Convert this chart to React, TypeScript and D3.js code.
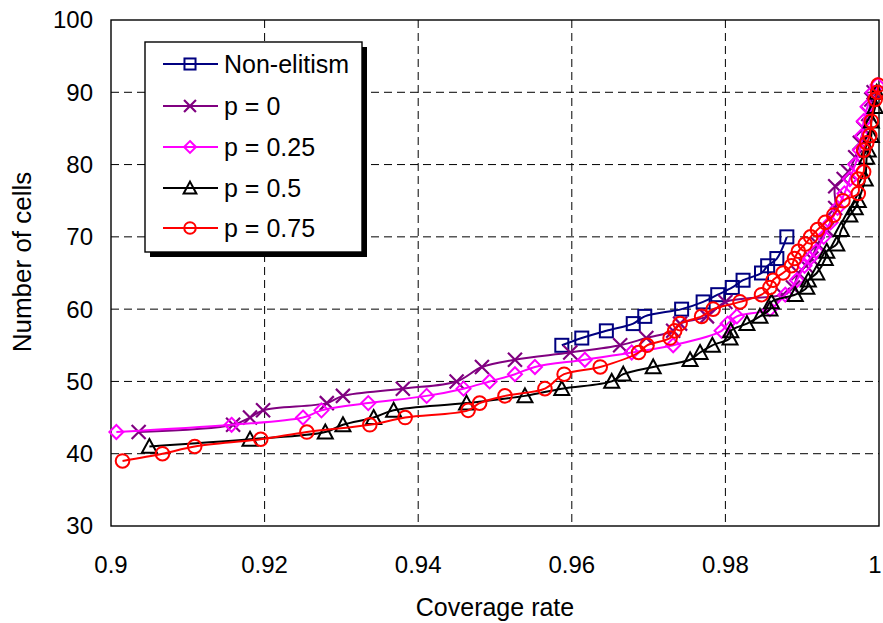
import React from "react";
import * as d3 from "d3";

// ---- data ----
const xTickValues = [0.9, 0.92, 0.94, 0.96, 0.98, 1];
const xTickLabels = ["0.9", "0.92", "0.94", "0.96", "0.98", "1"];
const yTickValues = [30, 40, 50, 60, 70, 80, 90, 100];
const seriesNames = ["Non-elitism", "p = 0", "p = 0.25", "p = 0.5", "p = 0.75"];

const nonElitismX = [0.9587, 0.9613, 0.9645, 0.968, 0.9695, 0.9743, 0.9771, 0.979, 0.9809, 0.9823, 0.9847, 0.9855, 0.9867, 0.988];
const nonElitismY = [55, 56, 57, 58, 59, 60, 61, 62, 63, 64, 65, 66, 67, 70];

const p0X = [0.9036, 0.9159, 0.9181, 0.9198, 0.9281, 0.9302, 0.938, 0.945, 0.9483, 0.9526, 0.9598, 0.9663, 0.9697, 0.9732, 0.9741, 0.9776, 0.98, 0.9875, 0.9888, 0.9895, 0.9905, 0.9912, 0.992, 0.9932, 0.9943, 0.9943, 0.9954, 0.996, 0.9969, 0.9975, 0.998, 0.9986, 0.999, 0.9993];
const p0Y = [43, 44, 45, 46, 47, 48, 49, 50, 52, 53, 54, 55, 56, 57, 58, 59, 61, 62, 63, 65, 66, 67, 69, 71, 74, 77, 78, 79, 81, 83, 85, 87, 89, 90];

const p025X = [0.9007, 0.9157, 0.925, 0.9274, 0.9335, 0.9411, 0.9459, 0.9493, 0.9526, 0.9552, 0.9617, 0.9678, 0.9732, 0.9795, 0.9803, 0.9815, 0.9858, 0.9878, 0.9893, 0.9903, 0.991, 0.9918, 0.9928, 0.9937, 0.9946, 0.9955, 0.9962, 0.9969, 0.9975, 0.9978, 0.998, 0.9985, 0.9992, 0.9998];
const p025Y = [43, 44, 45, 46, 47, 48, 49, 50, 51, 52, 53, 54, 55, 57, 58, 59, 60, 62, 64, 66, 67, 68, 70, 72, 74, 76, 78, 80, 82, 84, 86, 88, 90, 91];

const p05X = [0.905, 0.9181, 0.9279, 0.9302, 0.9342, 0.9368, 0.9463, 0.9539, 0.9587, 0.9652, 0.9667, 0.9706, 0.9754, 0.9767, 0.9783, 0.9806, 0.9807, 0.9828, 0.9845, 0.9858, 0.986, 0.9891, 0.9906, 0.9908, 0.9919, 0.993, 0.9932, 0.9945, 0.9951, 0.9962, 0.9969, 0.9973, 0.9982, 0.9984, 0.9986, 0.999, 0.999, 0.9995, 0.9997];
const p05Y = [41, 42, 43, 44, 45, 46, 47, 48, 49, 50, 51, 52, 53, 54, 55, 56, 57, 58, 59, 60, 61, 62, 63, 64, 65, 67, 68, 69, 71, 73, 74, 75, 78, 81, 82, 84, 86, 88, 90];

const p075X = [0.9015, 0.9067, 0.9109, 0.9195, 0.9255, 0.9337, 0.9383, 0.9465, 0.948, 0.9513, 0.9565, 0.959, 0.9637, 0.9687, 0.9698, 0.9728, 0.9734, 0.9741, 0.9769, 0.9784, 0.9819, 0.9847, 0.9858, 0.9862, 0.9875, 0.9886, 0.989, 0.9895, 0.9904, 0.9911, 0.992, 0.993, 0.9941, 0.9953, 0.9973, 0.9973, 0.998, 0.998, 0.9984, 0.9988, 0.999, 0.9995, 0.9998, 0.9999];
const p075Y = [39, 40, 41, 42, 43, 44, 45, 46, 47, 48, 49, 51, 52, 54, 55, 56, 57, 58, 59, 60, 61, 62, 63, 64, 65, 66, 67, 68, 69, 70, 71, 72, 73, 75, 76, 78, 79, 82, 83, 84, 86, 89, 90, 91];

const seriesX = [nonElitismX, p0X, p025X, p05X, p075X];
const seriesY = [nonElitismY, p0Y, p025Y, p05Y, p075Y];
const seriesColors = ["#000080", "#800080", "#FF00FF", "#000000", "#FF0000"];
const seriesMarkers = ["square", "x", "diamond", "triangle", "circle"];

// ---- layout ----
const W = 883;
const H = 623;
const plot = { left: 111, right: 879, top: 20, bottom: 526 };
const FONT = "'Liberation Sans', Arial, Helvetica, sans-serif";

function Marker({ type, x, y, color, s = 1 }: { type: string; x: number; y: number; color: string; s?: number }) {
  const common = { fill: "none", stroke: color, strokeWidth: 2 };
  if (type === "square") {
    const h = 6.5 * s;
    return <rect x={x - h} y={y - h} width={2 * h} height={2 * h} {...common} />;
  }
  if (type === "x") {
    const h = 7 * s;
    return <path d={`M${x - h},${y - h}L${x + h},${y + h}M${x - h},${y + h}L${x + h},${y - h}`} {...common} strokeWidth={2.2} />;
  }
  if (type === "diamond") {
    const h = 7 * s;
    return <path d={`M${x},${y - h}L${x + h},${y}L${x},${y + h}L${x - h},${y}Z`} {...common} />;
  }
  if (type === "triangle") {
    const h = 7.5 * s;
    return <path d={`M${x},${y - h}L${x + h},${y + h * 0.85}L${x - h},${y + h * 0.85}Z`} {...common} />;
  }
  return <circle cx={x} cy={y} r={6.8 * s} {...common} />;
}

export default function App() {
  const xScale = d3.scaleLinear().domain([0.9, 1]).range([plot.left, plot.right]);
  const yScale = d3.scaleLinear().domain([30, 100]).range([plot.bottom, plot.top]);
  const line = d3
    .line<[number, number]>()
    .x((d) => xScale(d[0]))
    .y((d) => yScale(d[1]))
    .curve(d3.curveCatmullRom.alpha(0.5));

  const legend = { x: 145, y: 42, w: 217, h: 210 };
  const legendRows = [64, 106, 147, 188, 228];

  return (
    <svg width={W} height={H} style={{ position: "absolute", left: 0, top: 0, background: "#fff" }} fontFamily={FONT}>
      <rect x={0} y={0} width={W} height={H} fill="#fff" />
      {/* gridlines */}
      {xTickValues.slice(1, -1).map((v) => (
        <line key={"gx" + v} x1={xScale(v)} x2={xScale(v)} y1={plot.top} y2={plot.bottom} stroke="#000" strokeWidth={1} strokeDasharray="8,5" />
      ))}
      {yTickValues.slice(1, -1).map((v) => (
        <line key={"gy" + v} x1={plot.left} x2={plot.right} y1={yScale(v)} y2={yScale(v)} stroke="#000" strokeWidth={1} strokeDasharray="8,5" />
      ))}
      <rect x={plot.left} y={plot.top} width={plot.right - plot.left} height={plot.bottom - plot.top} fill="none" stroke="#000" strokeWidth={1.4} />

      {/* series */}
      {seriesX.map((xs, i) => {
        const pts = xs.map((x, j) => [x, seriesY[i][j]] as [number, number]);
        return (
          <g key={"s" + i}>
            <path d={line(pts) || ""} fill="none" stroke={seriesColors[i]} strokeWidth={2} />
            {pts.map((p, j) => (
              <Marker key={j} type={seriesMarkers[i]} x={xScale(p[0])} y={yScale(p[1])} color={seriesColors[i]} />
            ))}
          </g>
        );
      })}

      {/* axes labels */}
      {yTickValues.map((v) => (
        <text key={"yt" + v} x={93} y={yScale(v)} dy="0.35em" textAnchor="end" fontSize={24} fill="#000">
          {v}
        </text>
      ))}
      {xTickValues.map((v, i) => (
        <text key={"xt" + v} x={Math.min(xScale(v), 875)} y={565} dy="0.35em" textAnchor="middle" fontSize={24} fill="#000">
          {xTickLabels[i]}
        </text>
      ))}
      <text x={(plot.left + plot.right) / 2} y={607} dy="0.35em" textAnchor="middle" fontSize={25} fill="#000">
        Coverage rate
      </text>
      <text transform={`translate(22,${262}) rotate(-90)`} dy="0.35em" textAnchor="middle" fontSize={26} fill="#000">
        Number of cells
      </text>

      {/* legend */}
      <rect x={legend.x + 5} y={legend.y + 5} width={legend.w} height={legend.h} fill="#000" />
      <rect x={legend.x} y={legend.y} width={legend.w} height={legend.h} fill="#fff" stroke="#000" strokeWidth={1.4} />
      {seriesNames.map((n, i) => (
        <g key={"lg" + i}>
          <line x1={163} x2={218} y1={legendRows[i]} y2={legendRows[i]} stroke={seriesColors[i]} strokeWidth={2} />
          <Marker type={seriesMarkers[i]} x={190} y={legendRows[i]} color={seriesColors[i]} s={0.85} />
          <text x={224} y={legendRows[i]} dy="0.35em" fontSize={25} fill="#000">
            {n}
          </text>
        </g>
      ))}
    </svg>
  );
}
